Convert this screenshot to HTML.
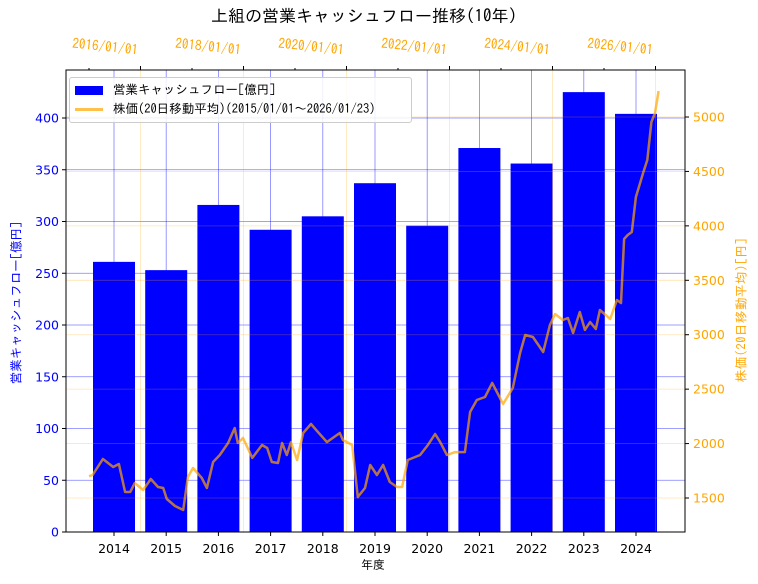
<!DOCTYPE html>
<html><head><meta charset="utf-8"><style>
body{margin:0;background:#fff;}
svg{display:block;font-family:"DejaVu Sans","IPAGothic",sans-serif;}
</style></head><body>
<svg id="chart" width="758" height="584" viewBox="0 0 758 584"></svg>
<script>
const years = [2014,2015,2016,2017,2018,2019,2020,2021,2022,2023,2024];
const cashflow = [261,253,316,292,305,337,296,371,356,425,404];
const leftTicks = [0,50,100,150,200,250,300,350,400];
const rightTicks = [1500,2000,2500,3000,3500,4000,4500,5000];
const topTickYears = [2016,2018,2020,2022,2024,2026];
const topTickLabels = ["2016/01/01","2018/01/01","2020/01/01","2022/01/01","2024/01/01","2026/01/01"];
const priceDates = [2015.0,2015.07,2015.27,2015.47,2015.58,2015.70,2015.80,2015.89,2016.05,2016.20,2016.34,2016.44,2016.51,2016.67,2016.83,2016.92,2017.02,2017.19,2017.29,2017.41,2017.54,2017.70,2017.83,2017.89,2017.99,2018.17,2018.36,2018.46,2018.55,2018.67,2018.75,2018.84,2018.92,2019.04,2019.16,2019.31,2019.43,2019.62,2019.76,2019.87,2019.93,2020.11,2020.22,2020.36,2020.46,2020.59,2020.71,2020.84,2020.98,2021.08,2021.19,2021.43,2021.58,2021.72,2021.82,2021.95,2022.11,2022.30,2022.40,2022.53,2022.69,2022.83,2023.04,2023.23,2023.37,2023.47,2023.62,2023.82,2023.95,2024.05,2024.20,2024.30,2024.40,2024.53,2024.63,2024.73,2024.84,2024.92,2025.12,2025.25,2025.33,2025.39,2025.46,2025.54,2025.62,2025.76,2025.84,2025.92,2025.99,2026.06];
const prices = [1700,1711,1858,1785,1812,1555,1555,1638,1574,1675,1601,1592,1491,1427,1390,1693,1776,1684,1592,1831,1895,2005,2143,2005,2051,1868,1987,1959,1831,1822,2005,1895,2014,1849,2097,2180,2115,2014,2060,2097,2033,1987,1509,1592,1803,1711,1803,1647,1601,1601,1849,1895,1987,2088,2014,1895,1922,1922,2290,2400,2428,2557,2364,2511,2832,2997,2979,2841,3089,3190,3135,3154,3016,3209,3044,3117,3053,3227,3144,3319,3291,3879,3916,3944,4265,4486,4605,4954,5037,5239];

const NS="http://www.w3.org/2000/svg";
const svg=document.getElementById('chart');
const PL=66,PR=685,PT=70,PB=532;
const yL=v=>532-v*1.035;
const yR=v=>117+(5000-v)*0.10886;
const xBar=i=>114+52.2*i;
const xDate=t=>89+(t-2015)*51.5;
function el(tag,attrs,parent){const e=document.createElementNS(NS,tag);for(const k in attrs)e.setAttribute(k,attrs[k]);(parent||svg).appendChild(e);return e;}
function txt(s,attrs){const e=el('text',attrs);e.textContent=s;return e;}

years.forEach((yr,i)=>{
  const b=el('rect',{x:xBar(i)-21,y:yL(cashflow[i]),width:42,height:PB-yL(cashflow[i]),fill:'#0000ff'});
  
  
});
leftTicks.forEach(v=>{const g=el('line',{x1:PL,x2:PR,y1:yL(v),y2:yL(v),stroke:'#0000ff','stroke-opacity':0.5,'stroke-width':0.8});
  });
years.forEach((yr,i)=>{const g=el('line',{x1:xBar(i),x2:xBar(i),y1:PT,y2:PB,stroke:'#0000ff','stroke-opacity':0.5,'stroke-width':0.8});
  });
rightTicks.forEach(v=>{const g=el('line',{x1:PL,x2:PR,y1:yR(v),y2:yR(v),stroke:'#ffa500','stroke-opacity':0.3,'stroke-width':0.8});
  });
topTickYears.forEach(t=>{const g=el('line',{x1:xDate(t),x2:xDate(t),y1:PT,y2:PB,stroke:'#ffa500','stroke-opacity':0.3,'stroke-width':0.8});
  });
const pts=priceDates.map((t,i)=>xDate(t).toFixed(1)+','+yR(prices[i]).toFixed(1)).join(' ');
const pl=el('polyline',{points:pts,fill:'none',stroke:'#ffa500','stroke-opacity':0.7,'stroke-width':2.5,'stroke-linejoin':'round'});


const fr=el('rect',{x:PL,y:PT,width:PR-PL,height:PB-PT,fill:'none',stroke:'#000','stroke-width':1});

leftTicks.forEach(v=>{el('line',{x1:PL-4,x2:PL,y1:yL(v),y2:yL(v),stroke:'#000'});
  const t=txt(v,{x:PL-7,y:yL(v)+4.5,'text-anchor':'end','font-size':12.5,fill:'#0000ff'});
  });
rightTicks.forEach(v=>{el('line',{x1:PR,x2:PR+4,y1:yR(v),y2:yR(v),stroke:'#000'});
  const t=txt(v,{x:PR+8,y:yR(v)+4.5,'font-size':12.5,fill:'#ffa500'});
  });
years.forEach((yr,i)=>{el('line',{x1:xBar(i),x2:xBar(i),y1:PB,y2:PB+4,stroke:'#000'});
  const t=txt(yr,{x:xBar(i),y:PB+21,'text-anchor':'middle','font-size':12.5,fill:'#000'});
  });
for(let y=2015;y<=2026;y++){el('line',{x1:xDate(y),x2:xDate(y),y1:PT-(y%2?2:4),y2:PT,stroke:'#000'});}
topTickYears.forEach((t,i)=>{const x=xDate(t)-3;
  const e=txt(topTickLabels[i],{x:x,y:55,'text-anchor':'end','font-size':14,'font-family':'IPAGothic, sans-serif',fill:'#ffa500',transform:`rotate(6 ${x} 55)`,'textLength':66,'lengthAdjust':'spacingAndGlyphs'});
  });
</script>
<div style="position:absolute;left:0;top:0;width:758px;height:584px;pointer-events:none;font-family:'IPAGothic','Noto Sans CJK JP',sans-serif;">
  <div style="position:absolute;left:0;width:728px;top:8px;text-align:center;font-size:17px;color:#000;">上組の営業キャッシュフロー推移(10年)</div>
  <div style="position:absolute;left:361px;top:559px;font-size:12px;">年度</div>
  <div style="position:absolute;left:16px;top:303px;transform:translate(-50%,-50%) rotate(-90deg);white-space:nowrap;font-size:12.5px;color:#0000ff;">営業キャッシュフロー[億円]</div>
  <div style="position:absolute;left:741px;top:310px;transform:translate(-50%,-50%) rotate(-90deg);white-space:nowrap;font-size:12.5px;letter-spacing:0.5px;color:#ffa500;">株価(20日移動平均)[円]</div>
  <div style="position:absolute;left:69px;top:77px;width:341px;height:44px;background:rgba(255,255,255,0.85);border:1px solid #ccc;border-radius:3px;font-size:12.5px;">
    <div style="position:absolute;left:5px;top:5px;white-space:nowrap;"><span style="display:inline-block;width:28px;height:9px;background:#0000ff;vertical-align:middle;margin-right:10px;"></span>営業キャッシュフロー[億円]</div>
    <div style="position:absolute;left:5px;top:24px;white-space:nowrap;"><span style="display:inline-block;width:28px;height:3px;background:rgba(255,165,0,0.7);vertical-align:middle;margin-right:10px;"></span>株価(20日移動平均)(2015/01/01～2026/01/23)</div>
  </div>
</div>
</body></html>
